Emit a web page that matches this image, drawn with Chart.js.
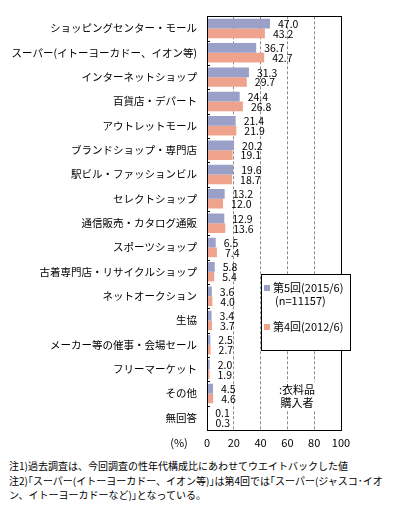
<!DOCTYPE html>
<html>
<head>
<meta charset="utf-8">
<script src="https://cdn.jsdelivr.net/npm/chart.js@4"></script>
<style>
    body { margin: 0; background: #fff; font-family: 'Noto Sans CJK JP', sans-serif; }
    #wrap { position: relative; width: 396px; height: 508px; }
    #grafico { position: absolute; left: 0; top: 0; }
    #notas { position: absolute; left: 9px; top: 459px; font-size: 10px; line-height: 14.5px; white-space: nowrap; color: #000; }
</style>
</head>
<body>
<div id="wrap">
    <canvas id="grafico" width="396" height="455"></canvas>
    <div id="notas">注1)過去調査は、今回調査の性年代構成比にあわせてウエイトバックした値<br>注2)｢スーパー(イトーヨーカドー、イオン等)｣は第4回では｢スーパー(ジャスコ･イオ<br>ン、イトーヨーカドーなど)｣となっている。</div>
</div>
<script>
// Dados
const categorias = [
    'ショッピングセンター・モール',
    'スーパー(イトーヨーカドー、イオン等)',
    'インターネットショップ',
    '百貨店・デパート',
    'アウトレットモール',
    'ブランドショップ・専門店',
    '駅ビル・ファッションビル',
    'セレクトショップ',
    '通信販売・カタログ通販',
    'スポーツショップ',
    '古着専門店・リサイクルショップ',
    'ネットオークション',
    '生協',
    'メーカー等の催事・会場セール',
    'フリーマーケット',
    'その他',
    '無回答'
];
const valoresQuinto = [47.0, 36.7, 31.3, 24.4, 21.4, 20.2, 19.6, 13.2, 12.9, 6.5, 5.8, 3.6, 3.4, 2.5, 2.0, 4.5, 0.1];
const valoresQuarto = [43.2, 42.7, 29.7, 26.8, 21.9, 19.1, 18.7, 12.0, 13.6, 7.4, 5.4, 4.0, 3.7, 2.7, 1.9, 4.6, 0.3];
const ticksX = [0, 20, 40, 60, 80, 100];
const legendaQuinto = ['第5回(2015/6)', '(n=11157)'];
const legendaQuarto = '第4回(2012/6)';
const anotacao = [':衣料品', '購入者'];

const corAzul = '#9aa0c8';
const corRosa = '#f0a38c';
const fonte = "'Noto Sans CJK JP', sans-serif";

// Moldura, rótulos de valor, legenda e textos extras
const extrasPlugin = {
    id: 'extras',
    afterDatasetsDraw(chart) {
        const ctx = chart.ctx;
        const a = chart.chartArea;
        ctx.save();

        // rótulos de valor
        ctx.fillStyle = '#000';
        ctx.font = '10.5px ' + fonte;
        ctx.textAlign = 'left';
        ctx.textBaseline = 'middle';
        chart.data.datasets.forEach((ds, i) => {
            chart.getDatasetMeta(i).data.forEach((bar, j) => {
                ctx.fillText(ds.data[j].toFixed(1), bar.x + 8, bar.y + 0.5);
            });
        });

        // moldura
        ctx.strokeStyle = '#000';
        ctx.lineWidth = 1;
        ctx.strokeRect(Math.round(a.left) + 0.5, Math.round(a.top) + 0.5,
            Math.round(a.right - a.left), Math.round(a.bottom - a.top));

        // pequenos ticks no eixo esquerdo
        const passo = (a.bottom - a.top) / categorias.length;
        ctx.beginPath();
        for (let k = 1; k < categorias.length; k++) {
            const y = Math.round(a.top + k * passo) + 0.5;
            ctx.moveTo(a.left, y);
            ctx.lineTo(a.left + 3, y);
        }
        ctx.stroke();

        // legenda
        const lx = 261, ly = 274, lw = 89, lh = 76;
        ctx.fillStyle = '#fff';
        ctx.fillRect(lx, ly, lw, lh);
        ctx.strokeRect(lx + 0.5, ly + 0.5, lw, lh);
        ctx.font = '11px ' + fonte;
        ctx.fillStyle = corAzul;
        ctx.fillRect(lx + 3, 285, 6, 6);
        ctx.fillStyle = '#000';
        ctx.fillText(legendaQuinto[0], lx + 12, 288);
        ctx.fillText(legendaQuinto[1], lx + 14, 301);
        ctx.fillStyle = corRosa;
        ctx.fillRect(lx + 3, 324, 6, 6);
        ctx.fillStyle = '#000';
        ctx.fillText(legendaQuarto, lx + 12, 327);

        // anotação
        ctx.font = '11px ' + fonte;
        ctx.textAlign = 'center';
        ctx.fillStyle = '#fff';
        ctx.fillRect(277, 382, 40, 28);
        ctx.fillStyle = '#000';
        ctx.fillText(anotacao[0], 297, 390);
        ctx.fillText(anotacao[1], 297, 403);

        // unidade
        ctx.fillText('(%)', 179, 443);
        ctx.restore();
    }
};

new Chart(document.getElementById('grafico'), {
    type: 'bar',
    data: {
        labels: categorias,
        datasets: [
            { label: legendaQuinto[0], data: valoresQuinto, backgroundColor: corAzul },
            { label: legendaQuarto, data: valoresQuarto, backgroundColor: corRosa }
        ]
    },
    options: {
        responsive: false,
        animation: false,
        indexAxis: 'y',
        categoryPercentage: 0.8,
        barPercentage: 1.0,
        layout: { padding: { left: 0, right: 55, top: 5, bottom: 0 } },
        plugins: { legend: { display: false }, tooltip: { enabled: false } },
        scales: {
            x: {
                min: 0, max: 100,
                afterBuildTicks(s) { s.ticks = ticksX.map(v => ({ value: v })); },
                ticks: { color: '#000', font: { family: fonte, size: 11 }, padding: 6 },
                grid: {
                    color: c => (c.tick && (c.tick.value === 0 || c.tick.value === 100)) ? 'rgba(0,0,0,0)' : '#8a8a8a',
                    drawTicks: false
                },
                border: { display: false, dash: [3, 2] },
                afterFit(s) { s.height = 25; }
            },
            y: {
                ticks: { color: '#000', font: { family: fonte, size: 10.5 }, padding: 10, autoSkip: false },
                grid: { display: false, drawTicks: false },
                border: { display: false },
                afterFit(s) { s.width = 207; }
            }
        }
    },
    plugins: [extrasPlugin]
});
</script>
</body>
</html>
